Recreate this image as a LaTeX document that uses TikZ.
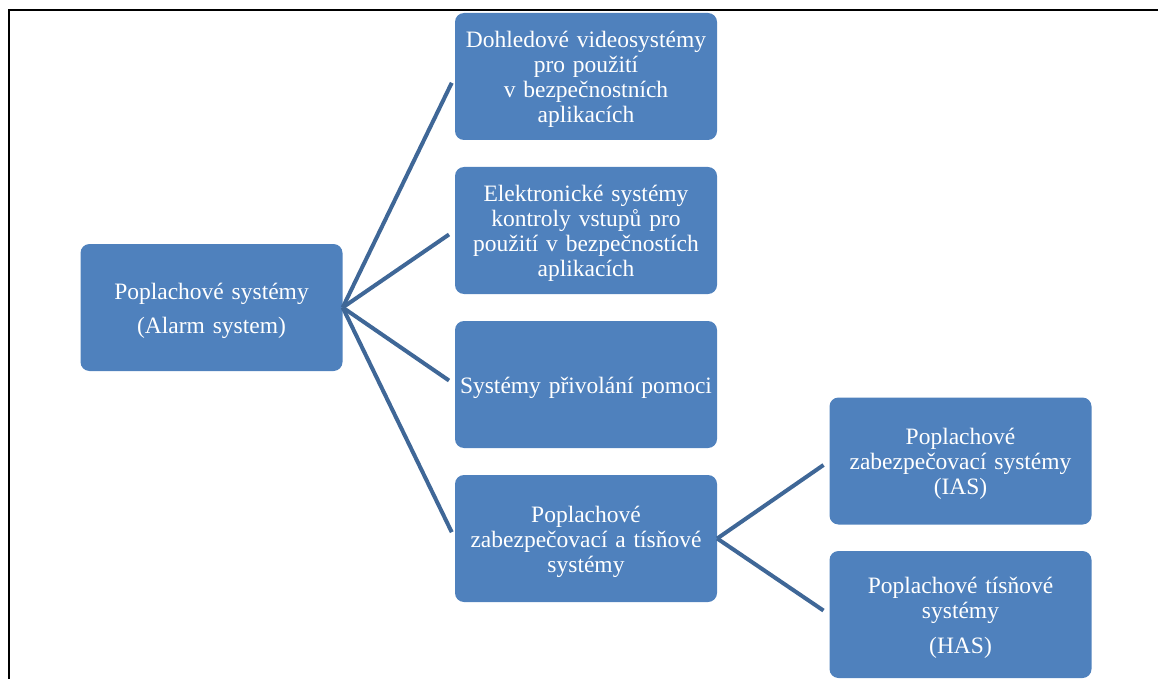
\documentclass[tikz,border=0pt]{standalone}
\usepackage{fontspec}
\setmainfont{Liberation Serif}
\definecolor{boxblue}{HTML}{4F81BD}
\definecolor{lineblue}{HTML}{3F6797}
\begin{document}
\begin{tikzpicture}[x=1pt,y=-1pt,
  sbox/.style={fill=boxblue, draw=none, rounded corners=9pt,
    minimum width=262pt, minimum height=127pt, inner sep=0pt},
  txt/.style={text=white, inner sep=0pt, text width=260pt, align=center,
    yshift=-3pt, font=\fontsize{23.5pt}{25pt}\selectfont},
  conn/.style={draw=lineblue, line width=4pt, shorten >=7pt}]
\useasboundingbox (0,0) rectangle (1159,679);
\draw[line width=2pt] (9,680) -- (9,10) -- (1158,10);
\node[sbox, label={[txt]center:Poplachové systémy\\[9pt](Alarm system)}] (root) at (211.5,307.5) {};
\node[sbox, label={[txt]center:Dohledové videosystémy\\pro použití\\v bezpečnostních\\aplikacích}] (b1) at (586,76.5) {};
\node[sbox, label={[txt]center:Elektronické systémy\\kontroly vstupů pro\\použití v bezpečnostích\\aplikacích}] (b2) at (586,230.5) {};
\node[sbox, label={[txt]center:Systémy přivolání pomoci}] (b3) at (586,384.5) {};
\node[sbox, label={[txt]center:Poplachové\\zabezpečovací a tísňové\\systémy}] (b4) at (586,538.5) {};
\node[sbox, label={[txt]center:Poplachové\\zabezpečovací systémy\\(IAS)}] (b5) at (960.5,461) {};
\node[sbox, label={[txt]center:Poplachové tísňové\\systémy\\[10pt](HAS)}] (b6) at (960.5,614.5) {};
\foreach \t in {b1,b2,b3,b4} \draw[conn] (root.east) -- (\t.west);
\foreach \t in {b5,b6} \draw[conn] (b4.east) -- (\t.west);
\end{tikzpicture}
\end{document}
